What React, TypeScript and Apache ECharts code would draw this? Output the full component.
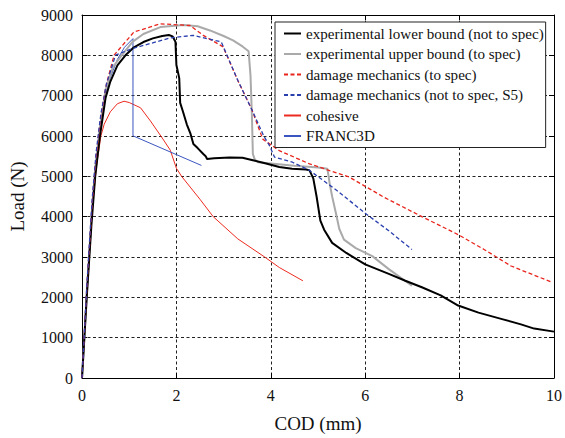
import React, { useEffect, useRef } from "react";
import * as echarts from "echarts";

// ---- data (COD in mm, Load in N) ----
const lowerCod = [0, 0.05, 0.1, 0.15, 0.2, 0.28, 0.38, 0.5, 0.6, 0.75, 0.92, 1.1, 1.3, 1.5, 1.7, 1.84, 1.92, 1.96, 1.98, 2.0, 2.03, 2.06, 2.08, 2.14, 2.22, 2.3, 2.36, 2.45, 2.57, 2.62, 2.65, 2.8, 3.13, 3.4, 3.62, 3.9, 4.18, 4.45, 4.75, 4.82, 4.9, 4.97, 5.05, 5.13, 5.3, 5.6, 6.0, 6.5, 6.85, 7.2, 7.6, 7.97, 8.4, 8.9, 9.3, 9.58, 10];
const lowerLoad = [0, 1000, 2000, 2900, 3800, 5000, 6000, 6950, 7350, 7750, 8000, 8200, 8330, 8420, 8480, 8505, 8470, 8380, 8333, 7760, 7600, 7434, 6820, 6600, 6290, 6050, 5800, 5700, 5554, 5500, 5431, 5450, 5470, 5460, 5400, 5320, 5230, 5190, 5170, 5147, 4950, 4500, 3900, 3676, 3350, 3100, 2818, 2580, 2410, 2250, 2050, 1796, 1620, 1460, 1330, 1225, 1150];

const upperCod = [0, 0.05, 0.1, 0.15, 0.2, 0.28, 0.38, 0.5, 0.65, 0.84, 1.07, 1.3, 1.66, 2.15, 2.45, 2.71, 3.0, 3.2, 3.4, 3.53, 3.57, 3.6, 3.62, 3.66, 3.73, 4.0, 4.5, 5.0, 5.2, 5.25, 5.3, 5.38, 5.45, 5.55, 5.8, 6.15, 6.5, 6.99];
const upperLoad = [0, 1000, 2050, 3000, 4000, 5200, 6200, 7150, 7700, 8000, 8333, 8530, 8700, 8755, 8720, 8617, 8480, 8373, 8220, 8100, 7500, 6500, 5554, 5420, 5350, 5320, 5260, 5220, 5187, 4800, 4500, 4084, 3700, 3431, 3220, 3022, 2700, 2287];

const dmSpecCod = [0, 0.05, 0.1, 0.16, 0.22, 0.3, 0.4, 0.52, 0.68, 1.1, 1.66, 2.29, 2.57, 2.99, 3.3, 3.6, 3.83, 4.18, 4.82, 5.66, 6.4, 7.2, 7.97, 8.5, 9.09, 9.97];
const dmSpecLoad = [0, 1100, 2200, 3300, 4400, 5500, 6500, 7300, 8005, 8578, 8782, 8740, 8495, 8211, 7380, 6650, 5922, 5637, 5309, 4983, 4480, 4002, 3554, 3200, 2777, 2368];

const dmS5Cod = [0, 0.05, 0.1, 0.16, 0.22, 0.3, 0.4, 0.52, 0.71, 1.07, 1.87, 2.36, 2.95, 3.0, 3.3, 3.6, 3.85, 3.97, 4.08, 4.46, 4.82, 5.4, 6.0, 6.5, 6.99];
const dmS5Load = [0, 1100, 2250, 3400, 4500, 5600, 6550, 7300, 8005, 8169, 8431, 8495, 8333, 8200, 7380, 6650, 6000, 5767, 5474, 5350, 5147, 4650, 4084, 3650, 3186];

const cohesiveCod = [0, 0.05, 0.1, 0.16, 0.22, 0.3, 0.4, 0.47, 0.6, 0.75, 0.89, 1.0, 1.24, 1.45, 1.7, 1.87, 2.0, 2.11, 2.5, 2.78, 3.3, 3.87, 4.18, 4.68];
const cohesiveLoad = [0, 1000, 2000, 3100, 4200, 5200, 6000, 6290, 6600, 6800, 6862, 6830, 6700, 6373, 5950, 5650, 5200, 5000, 4430, 4000, 3450, 3000, 2740, 2410];

const francCod = [0, 0.05, 0.1, 0.16, 0.22, 0.3, 0.4, 0.55, 0.75, 0.9, 1.08, 1.08, 2.53];
const francLoad = [0, 1050, 2150, 3300, 4400, 5500, 6450, 7300, 7900, 8200, 8414, 6005, 5270];

const xTicks = { min: 0, max: 10, interval: 2 };
const yTicks = { min: 0, max: 9000, interval: 1000 };

const names = [
  "experimental lower bound (not to spec)",
  "experimental upper bound (to spec)",
  "damage mechanics (to spec)",
  "damage mechanics (not to spec, S5)",
  "cohesive",
  "FRANC3D",
];

const zip = (xs: number[], ys: number[]) => xs.map((x, i) => [x, ys[i]]);

const FONT = "Liberation Serif";

export default function App() {
  const ref = useRef<HTMLDivElement>(null);
  useEffect(() => {
    if (!ref.current) return;
    const chart = echarts.init(ref.current, undefined, { renderer: "svg" });
    const gridDash = { color: "#222", width: 1, type: [3, 2.5] as any };
    const mkLine = (name: string, data: number[][], color: string, width: number, dashed: boolean, z: number) => ({
      name,
      type: "line",
      data,
      symbol: "none",
      showSymbol: false,
      z,
      lineStyle: { color, width, type: dashed ? [4, 2.5] : "solid" },
      itemStyle: { color },
    });
    chart.setOption({
      animation: false,
      backgroundColor: "#fff",
      grid: { left: 81, top: 15, width: 475, height: 368, show: false },
      legend: {
        data: names,
        orient: "vertical",
        left: 275,
        top: 22,
        padding: [4, 2, 4, 8],
        itemGap: 5.5,
        itemWidth: 17,
        itemHeight: 14,
        backgroundColor: "#fff",
        borderColor: "#222",
        borderWidth: 1,
        borderRadius: 0,
        itemStyle: { opacity: 0, borderWidth: 0 },
        textStyle: { fontFamily: FONT, fontSize: 15.1, color: "#111" },
        z: 10,
      },
      xAxis: [
        {
          type: "value",
          ...xTicks,
          position: "bottom",
          name: "COD (mm)",
          nameLocation: "middle",
          nameGap: 36,
          nameTextStyle: { fontFamily: FONT, fontSize: 19, color: "#111" },
          axisLine: { show: true, onZero: false, lineStyle: { color: "#000", width: 1 } },
          axisTick: { show: true, inside: true, length: 5, lineStyle: { color: "#000" } },
          axisLabel: { fontFamily: FONT, fontSize: 16, color: "#111", margin: 9 },
          splitLine: { show: true, lineStyle: gridDash },
        },
        {
          type: "value",
          ...xTicks,
          position: "top",
          axisLine: { show: true, onZero: false, lineStyle: { color: "#000", width: 1 } },
          axisTick: { show: true, inside: true, length: 5, lineStyle: { color: "#000" } },
          axisLabel: { show: false },
          splitLine: { show: false },
        },
      ],
      yAxis: [
        {
          type: "value",
          ...yTicks,
          position: "left",
          name: "Load (N)",
          nameLocation: "middle",
          nameGap: 55,
          nameRotate: 90,
          nameTextStyle: { fontFamily: FONT, fontSize: 19, color: "#111" },
          axisLine: { show: true, onZero: false, lineStyle: { color: "#000", width: 1 } },
          axisTick: { show: true, inside: true, length: 5, lineStyle: { color: "#000" } },
          axisLabel: { fontFamily: FONT, fontSize: 16, color: "#111", margin: 9, formatter: (v: number) => String(v) },
          splitLine: { show: true, lineStyle: gridDash },
        },
        {
          type: "value",
          ...yTicks,
          position: "right",
          axisLine: { show: true, onZero: false, lineStyle: { color: "#000", width: 1 } },
          axisTick: { show: true, inside: true, length: 5, lineStyle: { color: "#000" } },
          axisLabel: { show: false },
          splitLine: { show: false },
        },
      ],
      series: [
        mkLine(names[4], zip(cohesiveCod, cohesiveLoad), "#ec2b20", 1, false, 2),
        mkLine(names[5], zip(francCod, francLoad), "#3a55c0", 1, false, 2),
        mkLine(names[1], zip(upperCod, upperLoad), "#aaaaaa", 2, false, 3),
        mkLine(names[0], zip(lowerCod, lowerLoad), "#000000", 2, false, 4),
        mkLine(names[2], zip(dmSpecCod, dmSpecLoad), "#e8241c", 1.3, true, 5),
        mkLine(names[3], zip(dmS5Cod, dmS5Load), "#2a3fae", 1.3, true, 5),
      ],
    });
    return () => chart.dispose();
  }, []);
  return (
    <div
      ref={ref}
      style={{ position: "absolute", left: 0, top: 0, width: 565, height: 438 }}
    />
  );
}
